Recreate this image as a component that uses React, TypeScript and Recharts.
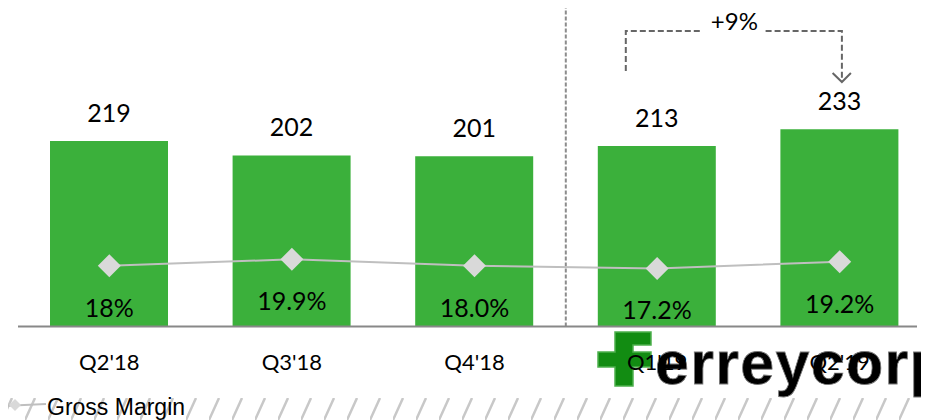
import React from "react";
import {
  ComposedChart,
  Bar,
  Line,
  XAxis,
  YAxis,
  LabelList,
  ReferenceLine,
} from "recharts";

const categories = ["Q2'18", "Q3'18", "Q4'18", "Q1'19", "Q2'19"];
const grossProfit = [219, 202, 201, 213, 233];
const grossMargin = [18.0, 19.9, 18.0, 17.2, 19.2];
const marginLabels = ["18%", "19.9%", "18.0%", "17.2%", "19.2%"];
const growthLabel = "+9%";
const seriesName = "Gross Margin";
const logoText = "erreycorp";

const data = categories.map((c, i) => ({
  cat: c,
  gp: grossProfit[i],
  gm: grossMargin[i],
  gmLabel: marginLabels[i],
}));

const NUM_FONT = "Lato, 'DejaVu Sans', sans-serif";
const GREEN = "#3BB03B";

const Diamond = (props: any) => {
  const { cx, cy } = props;
  if (cx == null || cy == null) return null;
  const r = 11.5;
  return (
    <path
      d={`M${cx},${cy - r} L${cx + r},${cy} L${cx},${cy + r} L${cx - r},${cy} Z`}
      fill="#D9D9D9"
      stroke="none"
    />
  );
};

const valueLabel = (props: any) => {
  const { x, y, width, value } = props;
  return (
    <text
      x={x + width / 2}
      y={y - 19.5}
      textAnchor="middle"
      fontFamily={NUM_FONT}
      fontSize={25}
      fill="#000"
    >
      {value}
    </text>
  );
};

const marginLabel = (props: any) => {
  const { x, y, index } = props;
  return (
    <text
      x={x}
      y={y + 51}
      textAnchor="middle"
      fontFamily={NUM_FONT}
      fontSize={25}
      fill="#000"
    >
      {marginLabels[index]}
    </text>
  );
};

const bracket = (props: any) => {
  const { x, width, index } = props;
  const cx = x + width / 2;
  const dash = "6 3";
  const stroke = "#666";
  if (index === 3) {
    return (
      <g>
        <path
          d={`M${cx - 31},71 L${cx - 31},31 L${cx + 44.7},31`}
          fill="none"
          stroke={stroke}
          strokeWidth={2}
          strokeDasharray={dash}
        />
      </g>
    );
  }
  if (index === 4) {
    return (
      <g>
        <path
          d={`M${cx - 73.8},31 L${cx + 2.5},31 L${cx + 2.5},81`}
          fill="none"
          stroke={stroke}
          strokeWidth={2}
          strokeDasharray={dash}
        />
        <path
          d={`M${cx - 6.8},73 L${cx + 2.5},82 L${cx + 11.5},73`}
          fill="none"
          stroke={stroke}
          strokeWidth={2}
        />
        <text
          x={cx - 105}
          y={30}
          textAnchor="middle"
          fontFamily={NUM_FONT}
          fontSize={24}
          fill="#000"
        >
          {growthLabel}
        </text>
      </g>
    );
  }
  return null;
};

const CategoryTick = (props: any) => {
  const { x, y, payload } = props;
  return (
    <text
      x={x}
      y={y + 43.5}
      textAnchor="middle"
      fontFamily={NUM_FONT}
      fontSize={22}
      fill="#000"
    >
      {payload.value}
    </text>
  );
};

const Background = () => (
  <svg
    width={929}
    height={420}
    style={{ position: "absolute", left: 0, top: 0 }}
  >
    <defs>
      <pattern
        id="hatch"
        patternUnits="userSpaceOnUse"
        width={23}
        height={22}
        x={2}
        y={398}
      >
        <line x1={0} y1={22} x2={10} y2={0} stroke="#C8C8C8" strokeWidth={2.5} />
      </pattern>
    </defs>
    <rect x={0} y={398} width={929} height={22} fill="url(#hatch)" />
    {/* logo */}
    <g fill="#128C12" stroke="#4DB04D" strokeWidth={1.5}>
      <path d="M615,332 L651,332 L651,345 L633,345 L633,352 L651,352 L651,367 L633,367 L633,386 L615,386 L615,367 L598,367 L598,352 L615,352 Z" />
    </g>
    <text
      x={655}
      y={383.5}
      fontFamily="'Liberation Sans', Arial, sans-serif"
      fontWeight="bold"
      fontSize={61}
      letterSpacing={1.3}
      fill="#000"
      stroke="#777"
      strokeWidth={0.8}
    >
      {logoText}
    </text>
    {/* legend */}
    <line x1={0} y1={406} x2={46} y2={404} stroke="#BFBFBF" strokeWidth={2} />
    <path d="M15,399 L21,405 L15,411 L9,405 Z" fill="#D9D9D9" />
    <text
      x={47}
      y={415}
      fontFamily="'Liberation Sans', Arial, sans-serif"
      fontSize={23}
      fill="#000"
    >
      {seriesName}
    </text>
  </svg>
);

export default function App() {
  return (
    <div
      style={{
        position: "relative",
        marginTop: -8,
        marginLeft: -8,
        width: 929,
        height: 420,
        overflow: "hidden",
      }}
    >
      <Background />
      <ComposedChart
        width={929}
        height={420}
        data={data}
        margin={{ top: 0, right: 12, left: 18, bottom: 0 }}
      >
        <XAxis
          dataKey="cat"
          height={93.5}
          padding={{ left: 0, right: -14 }}
          axisLine={{ stroke: "#888", strokeWidth: 2 }}
          tickLine={false}
          tickSize={0}
          tickMargin={0}
          tick={<CategoryTick />}
          interval={0}
        />
        <YAxis yAxisId="left" hide domain={[0, 385.5]} />
        <YAxis yAxisId="right" orientation="right" hide domain={[0, 96.7]} />
        <ReferenceLine
          yAxisId="left"
          x="Q1'19"
          position="start"
          stroke="#8C8C8C"
          strokeWidth={2}
          strokeDasharray="4 2"
          ifOverflow="extendDomain"
        />
        <Bar
          yAxisId="left"
          dataKey="gp"
          fill={GREEN}
          barSize={118}
          isAnimationActive={false}
        >
          <LabelList dataKey="gp" content={valueLabel} />
          <LabelList dataKey="gp" content={bracket} />
        </Bar>
        <Line
          yAxisId="right"
          type="linear"
          dataKey="gm"
          name={seriesName}
          stroke="#BFBFBF"
          strokeWidth={2}
          dot={<Diamond />}
          activeDot={false}
          isAnimationActive={false}
        >
          <LabelList dataKey="gmLabel" content={marginLabel} />
        </Line>
      </ComposedChart>
    </div>
  );
}
